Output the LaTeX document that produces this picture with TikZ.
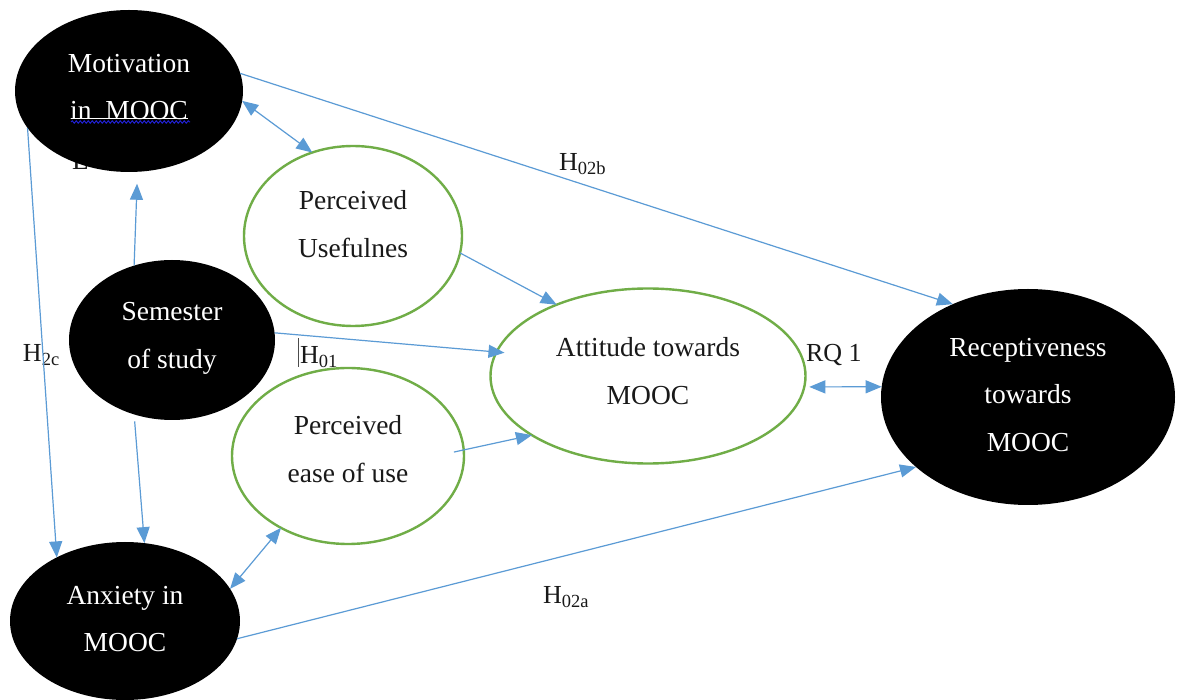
\documentclass[tikz,border=0pt]{standalone}
\usepackage{fontspec}
\setmainfont{Liberation Serif}
\usetikzlibrary{arrows.meta,shapes.geometric,decorations.pathmorphing}
\definecolor{lnblue}{HTML}{5B9BD5}
\definecolor{ringgreen}{HTML}{70AD47}
\definecolor{spellblue}{HTML}{2020D0}
\newcommand{\subx}[1]{\raisebox{-4pt}{\fontsize{18.5}{18.5}\selectfont #1}}
\begin{document}
\begin{tikzpicture}[x=1pt,y=-1pt,
  every node/.style={font=\fontsize{27.5}{47.5}\selectfont, inner sep=0pt, outer sep=0pt},
  darkell/.style={ellipse, fill=black, draw=none},
  ringell/.style={ellipse, draw=ringgreen, line width=2.4pt, fill=none},
  wtxt/.style={text=white, align=center},
  btxt/.style={text=black!90, align=center},
  lab/.style={anchor=base west, text=black!90, font=\fontsize{26}{30}\selectfont},
  arr/.style={draw=lnblue, line width=1.2pt, -{Triangle[length=16pt,width=13pt]}},
  dblarr/.style={draw=lnblue, line width=1.2pt, {Triangle[length=16pt,width=13pt]}-{Triangle[length=16pt,width=13pt]}}
]
\useasboundingbox (0,0) rectangle (1179,700);
\fill[white] (0,0) rectangle (1179,700);

% partly hidden letter under Motivation
\node[lab, font=\fontsize{27.5}{30}\selectfont] (lblL) at (72,170) {L};

% ellipses
\node[darkell, minimum width=228pt, minimum height=162pt] (mot) at (129,91) {};
\node[darkell, minimum width=206pt, minimum height=160pt] (sem) at (172,340) {};
\node[darkell, minimum width=230pt, minimum height=158pt] (anx) at (125,621) {};
\node[darkell, minimum width=294pt, minimum height=216pt] (rec) at (1028,397) {};
\node[ringell, minimum width=218pt, minimum height=180pt] (pu) at (353,236) {};
\node[ringell, minimum width=232pt, minimum height=176pt] (ease) at (348,456) {};
\node[ringell, minimum width=315pt, minimum height=175pt] (att) at (648,376) {};

% texts
\node[wtxt] (motT) at (129,87) {Motivation\\in\ \ MOOC};
\node[wtxt] (semT) at (172,338.5) {Semester\\of study};
\node[wtxt] (anxT) at (125,619) {Anxiety in\\MOOC};
\node[wtxt] (recT) at (1028,395) {Receptiveness\\towards\\MOOC};
\node[btxt] (puT) at (353,224) {Perceived\\Usefulnes};
\node[btxt] (easeT) at (348,449) {Perceived\\ease of use};
\node[btxt] (attT) at (648,371) {Attitude towards\\MOOC};

% underlines in Motivation
\draw[white, line width=0.9pt] (71,118) -- (188,118);
\draw[spellblue, line width=1pt, decorate, decoration={snake, amplitude=1.2pt, segment length=4pt}] (71,122) -- (190,122);

% labels
\node[lab] (h02b) at (559,171) {H\subx{02b}};
\node[lab] (h01) at (300,364) {H\subx{01}};
\node[lab] (h2c) at (23,362) {H\subx{2c}};
\node[lab] (rq1) at (806,362) {RQ 1};
\node[lab] (h02a) at (543,603) {H\subx{02a}};
\coordinate (curtop) at (298,338);
\coordinate (curbot) at (298,367);
\draw[black!70, line width=0.8pt] (curtop) -- (curbot);

% connectors
\draw[dblarr] (mot.-5) -- (pu.116);
\draw[arr] (mot.9) -- (rec.129);
\draw[arr, shorten >=12pt] (sem.117) -- (mot.-84);
\draw[arr] (mot.200) -- (anx.137);
\draw[arr, shorten <=7pt] (sem.-117) -- (anx.76);
\draw[arr] (pu.-9) -- (att.142);
\draw[arr, shorten >=-8pt] (sem.4) -- (att.171);
\draw[arr, shorten <=-10pt] (ease.3) -- (att.-153);
\draw[dblarr] (ease.-133) -- (anx.17);
\draw[dblarr, shorten <=5pt] (att.-4) -- (rec.176);
\draw[arr] (anx.-9) -- (rec.-148);
\end{tikzpicture}
\end{document}
